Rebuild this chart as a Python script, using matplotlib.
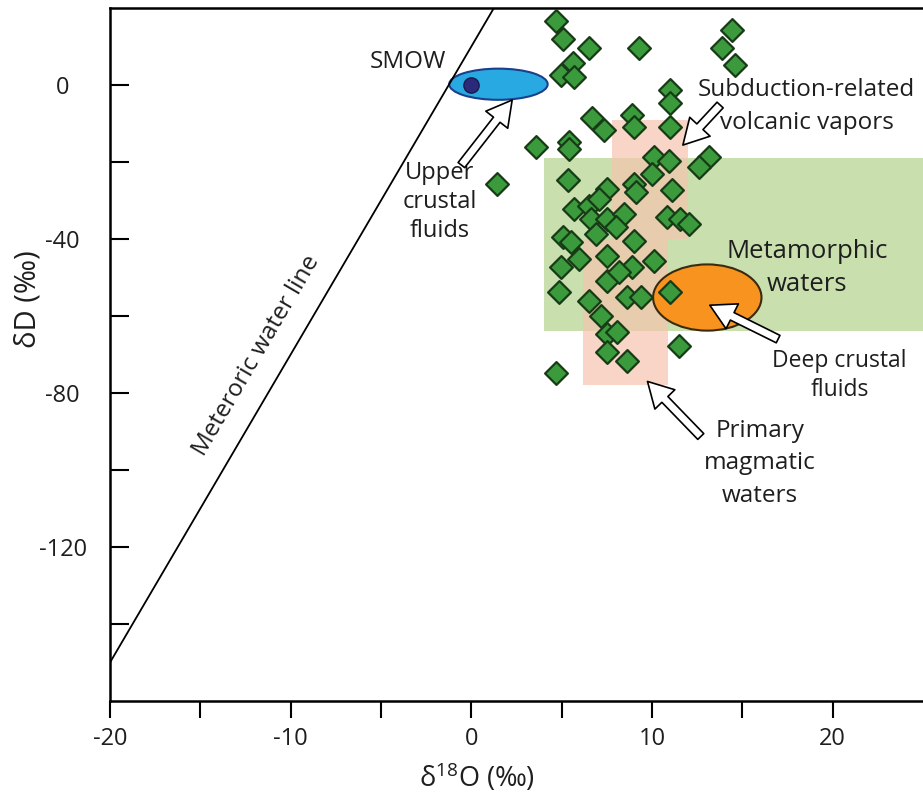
import math
import matplotlib
matplotlib.use("Agg")
import matplotlib.pyplot as plt
from matplotlib.patches import Ellipse, Rectangle

plt.rcParams["font.family"] = ["Open Sans", "DejaVu Sans"]
plt.rcParams["mathtext.fontset"] = "custom"
plt.rcParams["mathtext.rm"] = "Open Sans"

# --- sample compositions (delta 18O, delta D, per mil) ---
d18o = [4.68, 5.05, 6.52, 9.27, 14.42, 13.87, 14.60, 5.60, 4.96, 5.70,
        11.02, 11.02, 6.70, 7.34, 8.91, 9.00, 11.02, 3.58, 5.42, 5.42,
        1.43, 10.10, 10.93, 10.01, 13.13, 12.58, 5.33, 7.53, 9.00, 9.09,
        11.11, 5.69, 6.52, 7.07, 6.61, 7.53, 8.45, 7.99, 10.84, 11.57,
        12.03, 5.05, 5.51, 6.89, 9.00, 4.96, 5.97, 7.53, 8.91, 10.10,
        7.53, 8.17, 4.87, 6.52, 8.63, 9.37, 11.02, 7.16, 7.53, 8.08,
        7.53, 8.63, 11.48, 4.68]
dD = [16.5, 12.0, 9.5, 9.5, 14.3, 9.5, 5.2, 5.6, 2.6, 2.2,
      -1.3, -4.8, -8.7, -11.7, -7.8, -10.9, -10.9, -16.1, -14.8, -16.5,
      -25.6, -18.7, -19.8, -23.0, -18.7, -21.3, -24.7, -26.9, -25.6, -27.8,
      -27.3, -32.1, -31.3, -29.5, -34.7, -34.7, -33.4, -36.9, -34.3, -34.7,
      -36.0, -39.5, -40.8, -38.6, -40.4, -47.3, -45.2, -44.3, -47.3, -45.6,
      -50.8, -48.6, -53.8, -56.0, -55.1, -55.1, -53.8, -59.9, -64.7, -64.2,
      -69.4, -71.6, -67.7, -74.7]

# --- meteoric water line end points ---
mwl_d18o = [-20.0, 1.25]
mwl_dD = [-150.0, 20.0]

# --- reference fields: (d18O min, d18O max, dD min, dD max) ---
metamorphic_box = (4.0, 25.0, -64.0, -19.0)
vapor_box = (7.8, 12.0, -40.0, -9.0)
magmatic_box = (6.2, 10.9, -78.0, -40.0)

# --- ellipses: (centre d18O, centre dD, width, height) ---
upper_crust_ell = (1.5, 0.2, 5.45, 8.1)
deep_crust_ell = (13.06, -55.2, 6.0, 17.2)
smow = (0.0, 0.0)

x_ticks = [-20, -15, -10, -5, 0, 5, 10, 15, 20]
x_ticklabels = ["-20", "", "-10", "", "0", "", "10", "", "20"]
y_ticks = [0, -20, -40, -60, -80, -100, -120, -140]
y_ticklabels = ["0", "", "-40", "", "-80", "", "-120", ""]

fig = plt.figure(figsize=(9.23, 7.95), dpi=100)
ax = fig.add_axes([110 / 923, 94 / 795, 813 / 923, 693 / 795])
ax.set_xlim(-20, 25)
ax.set_ylim(-160, 20)

green_field = "#c9dfae"
pink_field = "#f6c4ae"
ink = "#1e1e1e"


def box(b, color, z, alpha=1.0):
    x0, x1, y0, y1 = b
    ax.add_patch(Rectangle((x0, y0), x1 - x0, y1 - y0, facecolor=color,
                           edgecolor="none", alpha=alpha, zorder=z))


box(metamorphic_box, green_field, 1)
box(vapor_box, pink_field, 2, alpha=0.7)
box(magmatic_box, pink_field, 2, alpha=0.7)

ax.add_patch(Ellipse(upper_crust_ell[:2], upper_crust_ell[2], upper_crust_ell[3],
                     facecolor="#29a9e1", edgecolor="#1c3f8c", lw=1.5, zorder=3))
ax.add_patch(Ellipse(deep_crust_ell[:2], deep_crust_ell[2], deep_crust_ell[3],
                     facecolor="#f7931e", edgecolor="#3a2a10", lw=1.5, zorder=3))
ax.plot([smow[0]], [smow[1]], "o", ms=11, mfc="#2b2a7a", mec="#1a1a50",
        mew=1, zorder=4)

ax.plot(mwl_d18o, mwl_dD, color="black", lw=1.3, zorder=3)

ax.scatter(d18o, dD, marker="D", s=135, facecolor="#3a9a3c",
           edgecolor="#173a17", linewidths=1.6, zorder=5)

# line label, rotated along the meteoric water line
p0 = ax.transData.transform((mwl_d18o[0], mwl_dD[0]))
p1 = ax.transData.transform((mwl_d18o[1], mwl_dD[1]))
ang = math.degrees(math.atan2(p1[1] - p0[1], p1[0] - p0[0]))
ax.text(-11.9, -70.2, "Meteroric water line", rotation=ang,
        rotation_mode="anchor", ha="center", va="center", fontsize=17.5,
        color=ink, zorder=6)

txt = dict(color=ink, zorder=6, ha="center", va="center",
           multialignment="center")
ax.text(-3.53, 6.1, "SMOW", fontsize=17.5, **txt)
ax.text(-1.76, -30.4, "Upper\ncrustal\nfluids", fontsize=17, linespacing=1.28, **txt)
ax.text(18.57, -5.6, "Subduction-related\nvolcanic vapors", fontsize=17.5,
        linespacing=1.5, **txt)
ax.text(18.6, -47.6, "Metamorphic\nwaters", fontsize=18.5, linespacing=1.4, **txt)
ax.text(20.39, -75.4, "Deep crustal\nfluids", fontsize=16.5, linespacing=1.28, **txt)
ax.text(15.98, -98.3, "Primary\nmagmatic\nwaters", fontsize=17.5,
        linespacing=1.45, **txt)

arrow_kw = dict(arrowstyle="simple,head_length=0.9,head_width=1.0,tail_width=0.3",
                fc="white", ec="black", lw=1.2, mutation_scale=20,
                shrinkA=0, shrinkB=0)
arrows = [((-0.55, -20.8), (2.26, -3.9)),
          ((13.77, -5.2), (11.71, -15.6)),
          ((16.98, -66.0), (13.2, -57.2)),
          ((12.7, -91.3), (9.75, -77.0))]
for tail, tip in arrows:
    ax.annotate("", xy=tip, xytext=tail, arrowprops=arrow_kw, zorder=7)

ax.set_xticks(x_ticks)
ax.set_xticklabels(x_ticklabels)
ax.set_yticks(y_ticks)
ax.set_yticklabels(y_ticklabels)
ax.tick_params(axis="x", direction="out", length=12, width=1.5, pad=7,
               labelsize=17, labelcolor=ink)
ax.tick_params(axis="y", direction="in", length=14, width=1.5, pad=34,
               labelsize=17, labelcolor=ink)
for lab in ax.get_yticklabels():
    lab.set_horizontalalignment("center")
for s in ("left", "top", "bottom"):
    ax.spines[s].set_linewidth(1.8)
ax.spines["right"].set_visible(False)

ax.set_xlabel(r"$\mathregular{\delta^{18}O}$ (‰)", fontsize=19.5, color=ink)
ax.xaxis.set_label_coords(0.451, -0.088)
ax.set_ylabel("δD (‰)", fontsize=21, color=ink)
ax.yaxis.set_label_coords(-0.083, 0.58)

fig.savefig("out.png", dpi=100)
